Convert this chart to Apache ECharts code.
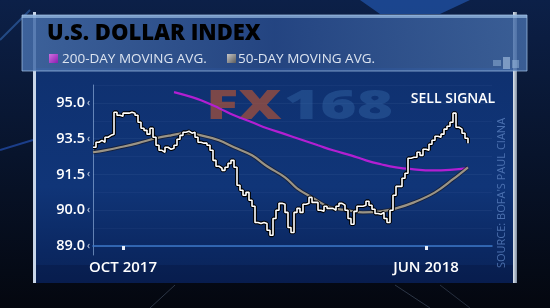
<!DOCTYPE html>
<html><head><meta charset="utf-8">
<script src="https://cdn.jsdelivr.net/npm/echarts@6/dist/echarts.min.js"></script>
<style>html,body{margin:0;padding:0;background:#070d1c;}#c{width:550px;height:308px;}</style>
</head><body><div id="c"></div>
<script>
// ---- data ----
const titleText = 'U.S. DOLLAR INDEX';
const legendNames = ['200-DAY MOVING AVG.', '50-DAY MOVING AVG.'];
const yTickValues = [89.0, 90.0, 91.5, 93.5, 95.0];
const xTickIndex = [10, 111];
const xTickLabels = ['OCT 2017', 'JUN 2018'];
const categoryCount = 134;
const price = [93.02,93.30,93.41,93.30,93.56,93.64,93.69,94.61,94.48,94.44,
94.57,94.57,94.61,94.57,94.48,94.19,93.94,93.85,93.69,93.94,
93.56,93.13,92.85,92.74,93.02,92.91,92.97,93.13,93.47,93.64,
93.77,93.81,93.73,93.77,93.56,93.30,93.25,93.25,93.13,92.85,
92.29,91.96,91.85,91.73,91.90,92.12,92.29,91.90,91.05,90.84,
90.63,90.75,90.42,90.17,89.66,89.63,89.66,89.63,89.44,89.30,
89.77,90.00,90.29,90.25,89.94,89.52,89.38,89.94,90.08,89.94,
90.25,90.29,90.54,90.33,90.33,90.00,89.97,90.17,90.08,90.08,
90.00,90.17,90.29,90.21,90.00,89.77,89.61,89.97,90.17,90.17,
90.21,90.38,90.21,90.04,89.91,89.89,89.94,89.77,89.66,90.00,
90.63,91.00,91.00,91.34,91.57,92.41,92.46,92.46,92.74,92.57,
92.91,92.85,93.19,93.41,93.60,93.56,93.69,93.90,94.02,94.19,
94.57,93.98,93.90,93.73,93.52,93.25];
const ma50Idx = [0,4,9,15,21,26,31,36,42,47,53,58,64,68,73,79,85,90,96,101,107,114,120,125];
const ma50Val = [92.74,92.85,93.02,93.25,93.52,93.64,93.73,93.64,93.41,93.02,92.57,91.96,91.38,90.92,90.54,90.12,90.00,89.94,89.97,90.08,90.33,90.75,91.30,91.90];
const ma200Idx = [27,33,36,42,47,53,58,64,69,75,80,86,91,96,101,107,113,119,125];
const ma200Val = [95.45,95.24,95.11,94.78,94.48,94.19,93.94,93.69,93.47,93.13,92.85,92.57,92.29,92.07,91.90,91.79,91.73,91.76,91.85];

// map a value onto the (unevenly labelled) axis, segment by segment between tick labels
function toAxis(v){
  if (v == null) return null;
  const t = yTickValues; let k = 0;
  while (k < t.length - 2 && v > t[k+1]) k++;
  return k + (v - t[k]) / (t[k+1] - t[k]);
}
const categories = Array.from({length: categoryCount}, (_, i) => {
  const j = xTickIndex.indexOf(i); return j >= 0 ? xTickLabels[j] : '';
});
const priceData = price.map(toAxis);
const ma50Data = ma50Idx.map((x, i) => [x, toAxis(ma50Val[i])]);
const ma200Data = ma200Idx.map((x, i) => [x, toAxis(ma200Val[i])]);

const chart = echarts.init(document.getElementById('c'), null, {renderer: 'canvas'});
const F = '"Open Sans", "DejaVu Sans", sans-serif';
chart.setOption({
  animation: false,
  backgroundColor: '#070d1c',
  graphic: [
    // background scene
    {type: 'rect', z: -20, shape: {x: 0, y: 0, width: 550, height: 308}, style: {fill: new echarts.graphic.LinearGradient(0,0,0,1,[{offset:0,color:'#0c2048'},{offset:0.5,color:'#08142c'},{offset:1,color:'#04070f'}])}},
    {type: 'polygon', z: -19, shape: {points: [[360,0],[470,0],[440,14],[380,14]]}, style: {fill: 'rgba(40,100,200,0.55)'}},
    {type: 'line', z: -19, shape: {x1: 0, y1: 40, x2: 30, y2: 10}, style: {stroke: 'rgba(60,120,200,0.5)', lineWidth: 2}},
    {type: 'line', z: -19, shape: {x1: 0, y1: 150, x2: 33, y2: 140}, style: {stroke: 'rgba(40,90,200,0.6)', lineWidth: 2}},
    {type: 'line', z: -19, shape: {x1: 150, y1: 308, x2: 175, y2: 285}, style: {stroke: 'rgba(120,140,170,0.35)', lineWidth: 1}},
    {type: 'line', z: -19, shape: {x1: 430, y1: 308, x2: 395, y2: 285}, style: {stroke: 'rgba(120,140,170,0.35)', lineWidth: 1}},
    {type: 'line', z: -19, shape: {x1: 470, y1: 308, x2: 440, y2: 285}, style: {stroke: 'rgba(120,140,170,0.3)', lineWidth: 1}},
    // main panel
    {type: 'rect', z: -10, shape: {x: 36, y: 68, width: 477, height: 215}, style: {fill: new echarts.graphic.LinearGradient(0,0,0,1,[{offset:0,color:'#0f3170'},{offset:0.55,color:'#103578'},{offset:0.85,color:'#0b2862'},{offset:1,color:'#0a2358'}])}},
    {type: 'rect', z: -9, shape: {x: 36, y: 265, width: 477, height: 18}, style: {fill: 'rgba(5,20,60,0.35)'}},
    // frame bars
    {type: 'rect', z: -5, shape: {x: 33, y: 12, width: 3, height: 271}, style: {fill: '#c9d6e8'}},
    {type: 'rect', z: -5, shape: {x: 513, y: 12, width: 4, height: 271}, style: {fill: new echarts.graphic.LinearGradient(1,0,0,0,[{offset:0,color:'#7f8da0'},{offset:1,color:'#dfe7f0'}])}},
    // title bar
    {type: 'rect', z: -4, shape: {x: 22, y: 15, width: 505, height: 56}, style: {fill: new echarts.graphic.LinearGradient(0,0,1,0,[{offset:0,color:'rgba(70,110,170,0.85)'},{offset:0.5,color:'rgba(40,75,140,0.85)'},{offset:1,color:'rgba(70,110,170,0.8)'}]), stroke: 'rgba(170,200,235,0.7)', lineWidth: 1}},
    {type: 'rect', z: -3, shape: {x: 22, y: 15, width: 505, height: 3}, style: {fill: 'rgba(170,205,240,0.6)'}},
    {type: 'rect', z: -3, shape: {x: 493, y: 60, width: 8, height: 6}, style: {fill: 'rgba(160,190,225,0.45)'}},
    {type: 'rect', z: -3, shape: {x: 503, y: 57, width: 7, height: 12}, style: {fill: 'rgba(180,205,235,0.55)'}},
    {type: 'rect', z: -3, shape: {x: 512, y: 60, width: 7, height: 8}, style: {fill: 'rgba(160,190,225,0.45)'}},
    // title text
    {type: 'text', z: 5, style: {text: titleText, x: 47, y: 34, verticalAlign: 'middle', font: '800 22px ' + F, fill: new echarts.graphic.LinearGradient(0,0,0,1,[{offset:0,color:'#ffffff'},{offset:1,color:'#c8d2de'}]), shadowColor: 'rgba(0,0,0,0.5)', shadowBlur: 3}},
    // legend
    {type: 'rect', z: 5, shape: {x: 49, y: 54, width: 9, height: 9}, style: {fill: new echarts.graphic.LinearGradient(0,0,1,1,[{offset:0,color:'#d070e0'},{offset:1,color:'#8a1cb0'}])}},
    {type: 'text', z: 5, style: {text: legendNames[0], x: 62, y: 59, verticalAlign: 'middle', font: '400 13.5px ' + F, fill: '#dce4f0'}},
    {type: 'rect', z: 5, shape: {x: 227, y: 54, width: 9, height: 9}, style: {fill: new echarts.graphic.LinearGradient(0,0,1,1,[{offset:0,color:'#c8c8c8'},{offset:1,color:'#5a5a5a'}])}},
    {type: 'text', z: 5, style: {text: legendNames[1], x: 238, y: 59, verticalAlign: 'middle', font: '400 13.5px ' + F, fill: '#dce4f0'}},
    // watermark
    {type: 'text', z: 1, x: 206, y: 108, scaleX: 1.5, style: {text: 'FX', x: 0, y: 0, verticalAlign: 'middle', font: '900 40px ' + F, fill: 'rgba(175,82,55,0.68)'}},
    {type: 'text', z: 1, x: 284, y: 108, scaleX: 1.55, style: {text: '168', x: 0, y: 0, verticalAlign: 'middle', font: '900 40px ' + F, fill: 'rgba(55,105,170,0.42)'}},
    // annotations
    {type: 'text', z: 6, style: {text: 'SELL SIGNAL', x: 453, y: 99, align: 'center', verticalAlign: 'middle', font: '600 14px ' + F, fill: '#ffffff'}},
    {type: 'text', z: 6, x: 502, y: 193, rotation: Math.PI / 2, style: {text: "SOURCE: BOFA'S PAUL CIANA", x: 0, y: 0, align: 'center', verticalAlign: 'middle', font: '400 11px ' + F, fill: 'rgba(90,128,190,0.8)'}}
  ],
  grid: {left: 93, top: 85, width: 399, height: 170},
  xAxis: {
    type: 'category', data: categories, boundaryGap: false,
    axisLine: {lineStyle: {color: '#3d78c8', width: 1.5}},
    axisTick: {interval: (i) => xTickIndex.includes(i), length: 4, inside: false, lineStyle: {color: '#e8eef8', width: 3}},
    axisLabel: {interval: (i) => xTickIndex.includes(i), color: '#ffffff', fontFamily: F, fontWeight: 600, fontSize: 15, margin: 5},
    splitLine: {show: false}
  },
  yAxis: {
    type: 'value', min: -0.25, max: 4.5, interval: 0.25,
    axisLine: {show: true, lineStyle: {color: 'rgba(170,200,240,0.55)', width: 1}},
    axisTick: {show: false},
    axisLabel: {
      margin: 3,
      formatter: (v) => {
        const r = Math.round(v * 100) / 100;
        if (Math.abs(r - Math.round(r)) > 1e-6 || r < 0 || r > 4) return '';
        return '{v|' + yTickValues[Math.round(r)].toFixed(1) + '}{t|‹}';
      },
      rich: {
        v: {color: '#ffffff', fontFamily: F, fontWeight: 600, fontSize: 14.5},
        t: {color: '#dde6f2', fontFamily: F, fontSize: 10, padding: [0, 0, 0, 2]}
      }
    },
    splitLine: {show: true, lineStyle: {color: ['rgba(255,255,255,0)','rgba(150,180,230,0.07)','rgba(255,255,255,0)','rgba(150,180,230,0.05)'], width: 1}}
  },
  series: [
    {name: 'ma200', type: 'line', data: ma200Data, smooth: 0.5, symbol: 'none', z: 3, lineStyle: {color: '#b21fd2', width: 2.2}},
    {name: 'ma50-edge', type: 'line', data: ma50Data, smooth: 0.4, symbol: 'none', z: 3, lineStyle: {color: 'rgba(25,25,35,0.7)', width: 4}},
    {name: 'ma50', type: 'line', data: ma50Data, smooth: 0.4, symbol: 'none', z: 4, lineStyle: {color: '#9a9486', width: 2.2}},
    {name: 'price-edge', type: 'line', data: priceData, step: 'end', symbol: 'none', z: 5, lineStyle: {color: '#000000', width: 3.8}},
    {name: 'price', type: 'line', data: priceData, step: 'end', symbol: 'none', z: 6, lineStyle: {color: '#ffffff', width: 1.6}}
  ]
});
</script></body></html>
